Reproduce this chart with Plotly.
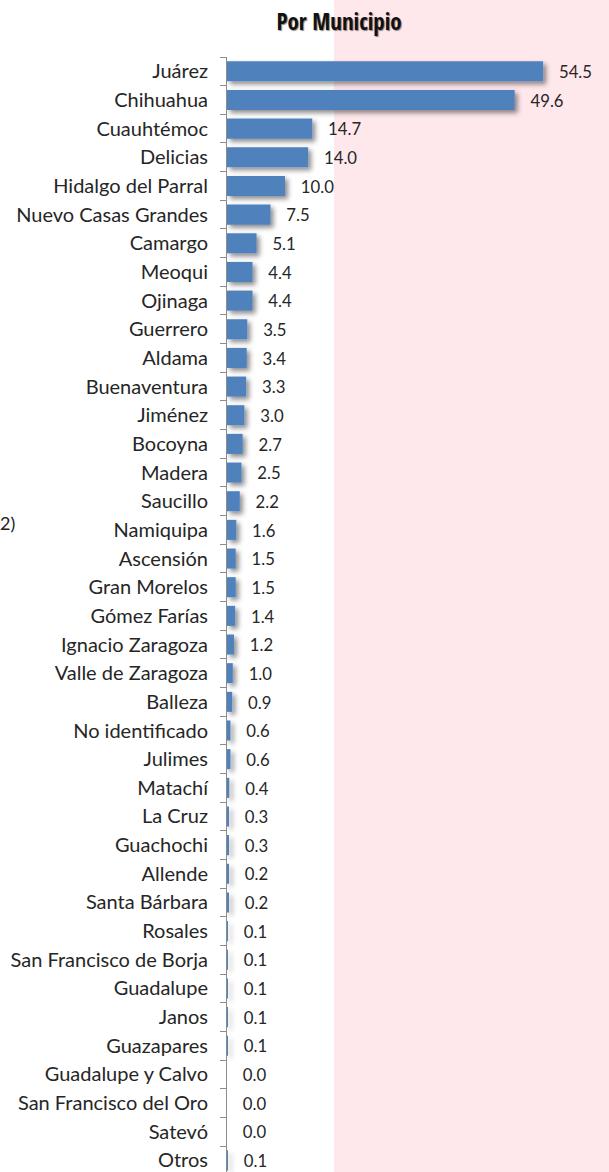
import plotly.graph_objects as go

# Municipality names and their shares, top to bottom
municipios = [
    "Juárez", "Chihuahua", "Cuauhtémoc", "Delicias", "Hidalgo del Parral",
    "Nuevo Casas Grandes", "Camargo", "Meoqui", "Ojinaga", "Guerrero",
    "Aldama", "Buenaventura", "Jiménez", "Bocoyna", "Madera", "Saucillo",
    "Namiquipa", "Ascensión", "Gran Morelos", "Gómez Farías",
    "Ignacio Zaragoza", "Valle de Zaragoza", "Balleza", "No identificado",
    "Julimes", "Matachí", "La Cruz", "Guachochi", "Allende", "Santa Bárbara",
    "Rosales", "San Francisco de Borja", "Guadalupe", "Janos", "Guazapares",
    "Guadalupe y Calvo", "San Francisco del Oro", "Satevó", "Otros",
]
porcentajes = [
    54.5, 49.6, 14.7, 14.0, 10.0, 7.5, 5.1, 4.4, 4.4, 3.5,
    3.4, 3.3, 3.0, 2.7, 2.5, 2.2, 1.6, 1.5, 1.5, 1.4,
    1.2, 1.0, 0.9, 0.6, 0.6, 0.4, 0.3, 0.3, 0.2, 0.2,
    0.1, 0.1, 0.1, 0.1, 0.1, 0.0, 0.0, 0.0, 0.1,
]

X_MAX = 65.86          # right end of the value axis
SHADE_FROM = 18.45     # start of the pink band (value units)

NBSP = "\u00a0"
LABEL_FONT = "Lato, Carlito, Liberation Sans"

fig = go.Figure()
fig.add_trace(go.Bar(
    x=porcentajes,
    y=municipios,
    orientation="h",
    marker=dict(color="#4F81BD", line=dict(width=0)),
    text=[f"{NBSP*3}{v:.1f}" for v in porcentajes],
    textposition="outside",
    textfont=dict(family=LABEL_FONT, size=20, color="#262626"),
    cliponaxis=False,
    hoverinfo="skip",
))

fig.add_shape(
    type="rect", xref="x", yref="paper",
    x0=SHADE_FROM, x1=X_MAX, y0=-0.05, y1=1.1,
    fillcolor="#FFE8EB", line=dict(width=0), layer="below",
)

fig.add_annotation(
    text="2)", xref="paper", yref="paper",
    x=-0.6, y=(1172 - 523) / 1115,
    xanchor="left", yanchor="middle", showarrow=False,
    font=dict(family=LABEL_FONT, size=18, color="#222"),
)

fig.update_layout(
    width=609, height=1172,
    margin=dict(l=227, r=0, t=57, b=0),
    paper_bgcolor="white", plot_bgcolor="rgba(0,0,0,0)",
    showlegend=False,
    bargap=0.3,
    title=dict(
        text="<b>Por Municipio</b>",
        x=339 / 609, xanchor="center", y=1 - 22 / 1172, yanchor="middle",
        font=dict(family="Open Sans Condensed, Roboto Condensed, Liberation Sans Narrow",
                  size=23, weight=900, color="#111",
                  shadow="1px 1px 1px rgba(0,0,0,0.45)"),
    ),
    xaxis=dict(range=[0, X_MAX], visible=False, fixedrange=True),
    yaxis=dict(
        type="category",
        categoryorder="array", categoryarray=municipios,
        range=[38.405, -0.5],
        showline=True, linecolor="#8c8c8c", linewidth=1,
        ticks="outside", tickson="boundaries", ticklen=6, tickwidth=1,
        tickcolor="#8c8c8c",
        ticklabelstandoff=14,
        tickfont=dict(family=LABEL_FONT, size=20, color="#262626"),
        showgrid=False, zeroline=False, fixedrange=True,
    ),
)

# soft drop shadow under each bar
shadow_js = """
var gd = document.getElementById('{plot_id}');
function addShadow() {
  var svg = gd.querySelector('.main-svg');
  var ns = 'http://www.w3.org/2000/svg';
  var defs = svg.querySelector('defs');
  if (!svg.querySelector('#barshadow')) {
    var f = document.createElementNS(ns, 'filter');
    f.setAttribute('id', 'barshadow');
    f.setAttribute('filterUnits', 'userSpaceOnUse');
    f.setAttribute('x', '-2000'); f.setAttribute('y', '-2000');
    f.setAttribute('width', '6000'); f.setAttribute('height', '6000');
    var ds = document.createElementNS(ns, 'feDropShadow');
    ds.setAttribute('dx', '3'); ds.setAttribute('dy', '3');
    ds.setAttribute('stdDeviation', '2.5');
    ds.setAttribute('flood-color', '#000');
    ds.setAttribute('flood-opacity', '0.45');
    f.appendChild(ds);
    defs.appendChild(f);
  }
  gd.querySelectorAll('.barlayer .point path').forEach(function(p) {
    p.setAttribute('filter', 'url(#barshadow)');
  });
}
addShadow();
"""

fig.write_html("out.html", post_script=shadow_js, config={"displayModeBar": False})
